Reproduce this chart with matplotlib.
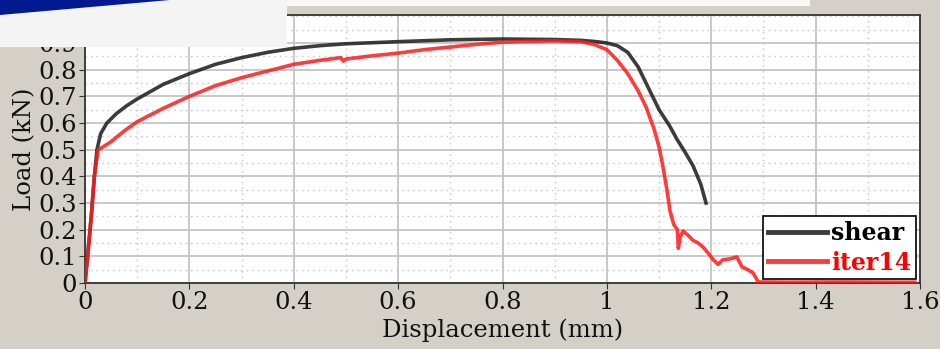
import matplotlib
matplotlib.use("Agg")
import matplotlib.pyplot as plt
from matplotlib.patches import Rectangle, Polygon
from matplotlib.ticker import MultipleLocator, FuncFormatter

# Данные
shear_x = [0, 0.005, 0.012, 0.018, 0.023, 0.03, 0.042, 0.06, 0.08, 0.1, 0.15, 0.2, 0.25,
           0.3, 0.35, 0.4, 0.45, 0.5, 0.6, 0.7, 0.8, 0.9, 0.95, 0.98, 1.0, 1.02, 1.04,
           1.06, 1.08, 1.10, 1.12, 1.134, 1.15, 1.165, 1.18, 1.19]
shear_y = [0, 0.1, 0.25, 0.4, 0.5, 0.56, 0.6, 0.635, 0.665, 0.69, 0.745, 0.785, 0.82,
           0.845, 0.865, 0.88, 0.89, 0.897, 0.905, 0.912, 0.915, 0.913, 0.91, 0.905, 0.9,
           0.89, 0.865, 0.81, 0.73, 0.65, 0.59, 0.54, 0.49, 0.44, 0.37, 0.30]

iter_x = [0, 0.005, 0.012, 0.018, 0.025, 0.03, 0.05, 0.075, 0.1, 0.15, 0.2, 0.25, 0.3,
          0.35, 0.4, 0.45, 0.49, 0.495, 0.5, 0.55, 0.6, 0.65, 0.7, 0.75, 0.8, 0.85, 0.9,
          0.95, 0.975, 1.0, 1.02, 1.04, 1.06, 1.075, 1.09, 1.10, 1.108, 1.115, 1.121,
          1.128, 1.135, 1.137, 1.14, 1.146, 1.155, 1.165, 1.175, 1.184, 1.195, 1.204,
          1.213, 1.222, 1.235, 1.249, 1.259, 1.27, 1.28, 1.29, 1.35, 1.45, 1.55, 1.59]
iter_y = [0, 0.1, 0.25, 0.4, 0.5, 0.505, 0.53, 0.57, 0.605, 0.655, 0.7, 0.74, 0.77,
          0.795, 0.82, 0.835, 0.845, 0.832, 0.84, 0.852, 0.862, 0.875, 0.885, 0.895,
          0.903, 0.906, 0.908, 0.905, 0.895, 0.875, 0.835, 0.785, 0.72, 0.66, 0.58, 0.51,
          0.43, 0.35, 0.27, 0.22, 0.2, 0.13, 0.17, 0.195, 0.18, 0.16, 0.15, 0.135, 0.11,
          0.087, 0.07, 0.087, 0.09, 0.098, 0.06, 0.05, 0.038, 0.004, 0.003, 0.004, 0.003,
          0.003]

x_ticks = [0, 0.2, 0.4, 0.6, 0.8, 1.0, 1.2, 1.4, 1.6]
y_ticks = [0, 0.1, 0.2, 0.3, 0.4, 0.5, 0.6, 0.7, 0.8, 0.9]

W, H = 940, 349
bg = "#d4d0c8"
plt.rcParams["font.family"] = ["DejaVu Serif"]

fig = plt.figure(figsize=(W / 100, H / 100), dpi=100, facecolor=bg)
ax = fig.add_axes([85 / W, 1 - 283 / H, (920 - 85) / W, (283 - 15) / H])
ax.set_facecolor("white")

ax.plot(shear_x, shear_y, color="#1a1a1a", lw=2.6, alpha=0.85, label="shear", zorder=3)
ax.plot(iter_x, iter_y, color="#ff1a1a", lw=2.6, alpha=0.85, label="iter14", zorder=4)

ax.set_xlim(0, 1.6)
ax.set_ylim(0, 1.005)
ax.set_xticks(x_ticks)
ax.set_yticks(y_ticks)
ax.xaxis.set_minor_locator(MultipleLocator(0.1))
ax.yaxis.set_minor_locator(MultipleLocator(0.05))
fmt = FuncFormatter(lambda v, p: "%g" % round(v, 2))
ax.xaxis.set_major_formatter(fmt)
ax.yaxis.set_major_formatter(fmt)

ax.grid(which="major", color="#c4c4c4", lw=1.3)
ax.grid(which="minor", color="#c4c4c4", lw=1.0, ls=(0, (1, 3)))
ax.set_axisbelow(True)
ax.tick_params(which="major", direction="out", length=4, labelsize=17.5, pad=2,
               colors="#333333", labelcolor="#111111")
ax.tick_params(which="minor", length=0)
for s in ax.spines.values():
    s.set_color("#333333")
    s.set_linewidth(1.3)

ax.set_xlabel("Displacement (mm)", fontsize=17.5, labelpad=3, color="#111111")
ax.set_ylabel("Load (kN)", fontsize=17.5, labelpad=1, color="#111111")

leg = ax.legend(loc="lower right", bbox_to_anchor=(1.0, 0.0),
                prop={"weight": "bold", "size": 17}, fancybox=False, framealpha=1,
                edgecolor="black", handlelength=2.5, handletextpad=0.2,
                borderpad=0.2, labelspacing=0.25, borderaxespad=0.15)
leg.get_frame().set_linewidth(1.2)
for line, txt in zip(leg.get_lines(), leg.get_texts()):
    line.set_linewidth(3.5)
    txt.set_color("black" if txt.get_text() == "shear" else "#ff0000")

# перекрывающий фрагмент слайда сверху слева
fig.patches.append(Rectangle((0, 1 - 47 / H), 287 / W, 47 / H, transform=fig.transFigure,
                             facecolor="#f4f4f4", edgecolor="none", zorder=10))
fig.patches.append(Rectangle((287 / W, 1 - 6 / H), (810 - 287) / W, 6 / H,
                             transform=fig.transFigure, facecolor="#f8f8f8",
                             edgecolor="none", zorder=10))
fig.patches.append(Polygon([(0, 1), (170 / W, 1), (0, 1 - 15 / H)], closed=True,
                           transform=fig.transFigure, facecolor="#021a8f",
                           edgecolor="none", zorder=11))

fig.savefig("out.png", dpi=100, facecolor=bg)
